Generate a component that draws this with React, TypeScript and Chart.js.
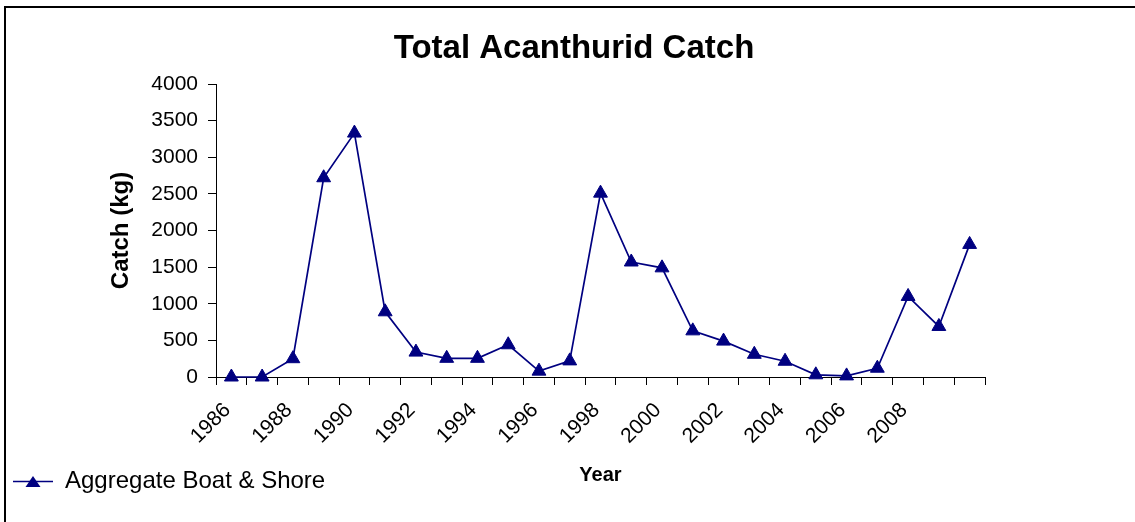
import React, { useEffect, useRef } from 'react';
import { Chart, registerables } from 'chart.js';

Chart.register(...registerables);

const chartTitle = 'Total Acanthurid Catch';
const seriesLabel = 'Aggregate Boat & Shore';
const xTitle = 'Year';
const yTitle = 'Catch (kg)';

const years = [
  '1986', '1987', '1988', '1989', '1990', '1991', '1992', '1993', '1994', '1995',
  '1996', '1997', '1998', '1999', '2000', '2001', '2002', '2003', '2004', '2005',
  '2006', '2007', '2008', '2009', '2010',
];
const catchKg = [
  0, 0, 250, 2720, 3330, 890, 340, 255, 255, 440,
  80, 220, 2510, 1570, 1490, 630, 490, 310, 215, 30,
  15, 120, 1100, 690, 1810,
];
const shownYearLabels = ['1986', '1988', '1990', '1992', '1994', '1996', '1998', '2000', '2002', '2004', '2006', '2008'];
const yMin = 0;
const yMax = 4000;
const yStep = 500;

const FONT = "'Liberation Sans', Arial, Helvetica, sans-serif";
const NAVY = '#000080';

function makeLegendSymbol(): HTMLCanvasElement {
  const c = document.createElement('canvas');
  c.width = 40;
  c.height = 16;
  const ctx = c.getContext('2d')!;
  ctx.strokeStyle = NAVY;
  ctx.lineWidth = 1.3;
  ctx.beginPath();
  ctx.moveTo(0, 8.5);
  ctx.lineTo(40, 8.5);
  ctx.stroke();
  ctx.fillStyle = NAVY;
  ctx.beginPath();
  ctx.moveTo(20, 3);
  ctx.lineTo(27.5, 14);
  ctx.lineTo(12.5, 14);
  ctx.closePath();
  ctx.fill();
  return c;
}

const framePlugin = {
  id: 'frame',
  beforeDraw(chart: any) {
    const ctx = chart.ctx;
    ctx.save();
    ctx.fillStyle = '#fff';
    ctx.fillRect(0, 0, chart.width, chart.height);
    ctx.fillStyle = '#000';
    ctx.fillRect(4, 6, chart.width, 2);
    ctx.fillRect(4, 6, 2, chart.height);
    ctx.restore();
  },
};

export default function App() {
  const ref = useRef<HTMLCanvasElement | null>(null);

  useEffect(() => {
    if (!ref.current) return;
    const legendSymbol = makeLegendSymbol();
    const chart = new Chart(ref.current, {
      type: 'line',
      data: {
        labels: years,
        datasets: [
          {
            label: seriesLabel,
            data: catchKg,
            borderColor: NAVY,
            backgroundColor: NAVY,
            borderWidth: 1.7,
            pointStyle: 'triangle',
            pointRadius: 8,
            pointBorderWidth: 1,
            pointBackgroundColor: NAVY,
            pointBorderColor: NAVY,
            tension: 0,
            clip: false as any,
            yAxisID: 'y',
          },
        ],
      },
      options: {
        animation: false,
        responsive: true,
        maintainAspectRatio: false,
        layout: { padding: { left: 0, right: 0, top: 0, bottom: 19 } },
        plugins: {
          title: {
            display: true,
            text: chartTitle,
            color: '#000',
            font: { family: FONT, size: 33, weight: 'bold' },
            padding: { top: 29, bottom: 15.4 },
          },
          legend: {
            display: true,
            position: 'bottom',
            align: 'start',
            labels: {
              usePointStyle: true,
              pointStyle: legendSymbol as any,
              pointStyleWidth: 40,
              padding: 13,
              color: '#000',
              font: { family: FONT, size: 24 },
            },
          },
          tooltip: { enabled: false },
        },
        scales: {
          x: {
            type: 'category',
            offset: true,
            grid: {
              offset: true,
              drawOnChartArea: false,
              drawTicks: true,
              tickLength: 8,
              color: '#000',
            },
            border: { display: true, color: '#000', width: 1 },
            ticks: {
              autoSkip: false,
              maxRotation: 45,
              minRotation: 45,
              padding: 13,
              labelOffset: -4,
              color: '#000',
              font: { family: FONT, size: 21 },
              callback: (_v: any, i: number) =>
                shownYearLabels.includes(years[i]) ? years[i] : '',
            },
            title: {
              display: true,
              text: xTitle,
              color: '#000',
              font: { family: FONT, size: 20, weight: 'bold' },
              padding: { top: 0, bottom: -31 },
            },
            afterFit: (s: any) => {
              s.height = 79;
            },
          },
          y: {
            type: 'linear',
            position: 'left',
            min: yMin,
            max: yMax,
            grid: {
              drawOnChartArea: false,
              drawTicks: true,
              tickLength: 8,
              color: '#000',
            },
            border: { display: true, color: '#000', width: 1 },
            ticks: {
              stepSize: yStep,
              padding: 10,
              color: '#000',
              font: { family: FONT, size: 21 },
              callback: (v: any) => String(v),
            },
            title: {
              display: true,
              text: yTitle,
              color: '#000',
              font: { family: FONT, size: 24, weight: 'bold' },
              padding: { top: 107, bottom: 0 },
            },
            afterFit: (s: any) => {
              s.width = 216;
            },
          },
          yRight: {
            type: 'linear',
            position: 'right',
            display: true,
            grid: { display: false, drawTicks: false },
            border: { display: false },
            ticks: { display: false },
            afterFit: (s: any) => {
              s.width = 163;
            },
          },
        },
      } as any,
      plugins: [framePlugin],
    });
    return () => chart.destroy();
  }, []);

  return (
    <div
      style={{
        position: 'fixed',
        left: 0,
        top: 0,
        width: 1135,
        height: 522,
        overflow: 'hidden',
        background: '#fff',
      }}
    >
      <div style={{ position: 'relative', width: 1148, height: 522 }}>
        <canvas ref={ref} />
      </div>
    </div>
  );
}
